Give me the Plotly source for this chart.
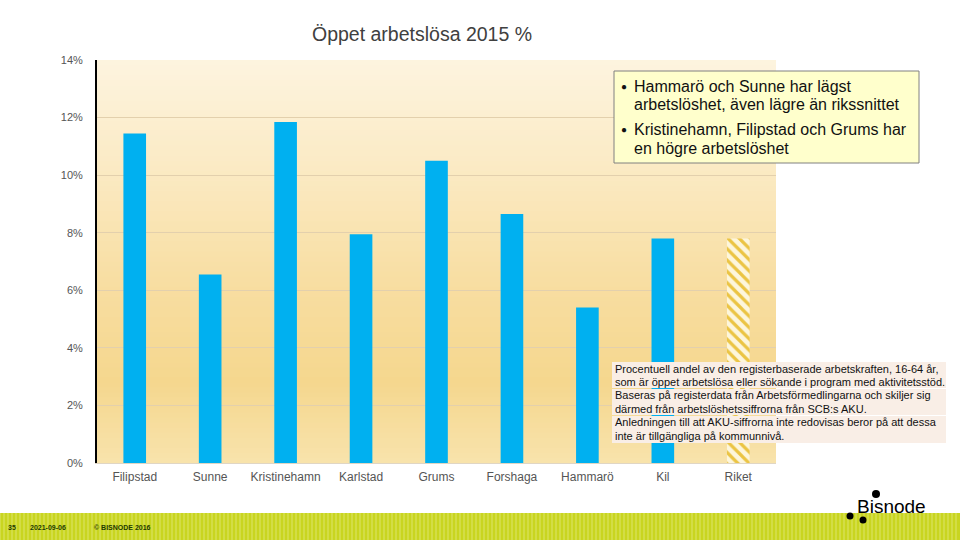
import plotly.graph_objects as go

# ---- data ----
categories = ["Filipstad", "Sunne", "Kristinehamn", "Karlstad", "Grums",
              "Forshaga", "Hammarö", "Kil", "Riket"]
values = [11.45, 6.55, 11.85, 7.95, 10.5, 8.65, 5.4, 7.8, 7.8]
ytick_vals = [0, 2, 4, 6, 8, 10, 12, 14]
ytick_text = ["0%", "2%", "4%", "6%", "8%", "10%", "12%", "14%"]

title_text = "Öppet arbetslösa 2015 %"
box_lines = [
    ("●", "Hammarö och Sunne har lägst"),
    ("", "arbetslöshet, även lägre än rikssnittet"),
    ("●", "Kristinehamn, Filipstad och Grums har"),
    ("", "en högre arbetslöshet"),
]
note_lines = [
    "Procentuell andel av den registerbaserade arbetskraften, 16-64 år,",
    "som är öppet arbetslösa eller sökande i program med aktivitetsstöd.",
    "Baseras på registerdata från Arbetsförmedlingarna och skiljer sig",
    "därmed från arbetslöshetssiffrorna från SCB:s AKU.",
    "Anledningen till att AKU-siffrorna inte redovisas beror på att dessa",
    "inte är tillgängliga på kommunnivå.",
]
footer_items = [("35", 6), ("2021-09-06", 28), ("© BISNODE 2016", 92)]

FONT = "Liberation Sans, Arial, sans-serif"
W, H = 960, 540
L, R, T, B = 97, 776, 60, 463


def px(x):
    return (x - L) / (R - L)


def py(y):
    return (B - y) / (B - T)


def lerp(c1, c2, t):
    a = [int(c1[i:i + 2], 16) for i in (1, 3, 5)]
    b = [int(c2[i:i + 2], 16) for i in (1, 3, 5)]
    return "#%02x%02x%02x" % tuple(round(a[k] + (b[k] - a[k]) * t) for k in range(3))


stops = [(0.0, "#f8e3ac"), (0.2, "#f5d78e"), (0.45, "#f8dea2"),
         (0.75, "#fbebc6"), (1.0, "#fdf4df")]


def grad(t):
    for (t0, c0), (t1, c1) in zip(stops[:-1], stops[1:]):
        if t0 <= t <= t1:
            return lerp(c0, c1, (t - t0) / (t1 - t0))
    return stops[-1][1]


shapes = []
N = 80
for i in range(N):
    y0 = i / N
    y1 = (i + 1) / N
    shapes.append(dict(type="rect", xref="paper", yref="paper", x0=0, x1=1,
                       y0=y0, y1=min(1, y1 + 0.002), fillcolor=grad((y0 + y1) / 2),
                       line=dict(width=0), layer="below"))

# text box (top right)
shapes.append(dict(type="rect", xref="paper", yref="paper",
                   x0=px(614), x1=px(919), y0=py(163), y1=py(71),
                   fillcolor="#ffffcc", line=dict(color="#808080", width=1)))
# note box rows
for (a, b) in [(362, 388), (389, 415), (416, 443)]:
    shapes.append(dict(type="rect", xref="paper", yref="paper",
                       x0=px(612), x1=px(946), y0=py(b), y1=py(a),
                       fillcolor="#f9eee6", line=dict(width=0)))
# footer band
shapes.append(dict(type="rect", xref="paper", yref="paper",
                   x0=px(0), x1=px(960), y0=py(540), y1=py(513),
                   fillcolor="#c9d520", line=dict(width=0)))
for xs in range(0, 960, 4):
    shapes.append(dict(type="line", xref="paper", yref="paper",
                       x0=px(xs), x1=px(xs), y0=py(540), y1=py(513),
                       line=dict(color="#dde56a", width=1)))
# logo dots
for (cx, cy, r) in [(876, 494, 4), (850, 516, 3.5), (863, 520, 3.5)]:
    shapes.append(dict(type="circle", xref="paper", yref="paper",
                       xsizemode="pixel", ysizemode="pixel",
                       xanchor=px(cx), yanchor=py(cy),
                       x0=-r, x1=r, y0=-r, y1=r,
                       fillcolor="black", line=dict(width=0)))

annotations = []
box_y = [86, 104, 129, 148]
for (bullet, txt), yy in zip(box_lines, box_y):
    if bullet:
        annotations.append(dict(text=bullet, x=px(619), y=py(yy), xref="paper", yref="paper",
                                xanchor="left", yanchor="middle", showarrow=False,
                                font=dict(family=FONT, size=10, color="#111111")))
    annotations.append(dict(text=txt, x=px(632), y=py(yy), xref="paper", yref="paper",
                            xanchor="left", yanchor="middle", showarrow=False,
                            font=dict(family=FONT, size=16, color="#111111")))
note_y = [369, 382, 395, 409, 422, 436]
for txt, yy in zip(note_lines, note_y):
    annotations.append(dict(text=txt, x=px(613), y=py(yy), xref="paper", yref="paper",
                            xanchor="left", yanchor="middle", showarrow=False,
                            font=dict(family=FONT, size=11, color="#111111")))
for txt, xx in footer_items:
    annotations.append(dict(text="<b>%s</b>" % txt, x=px(xx), y=py(527), xref="paper", yref="paper",
                            xanchor="left", yanchor="middle", showarrow=False,
                            font=dict(family=FONT, size=7, color="#1e3a00")))
annotations.append(dict(text="Bisnode", x=px(855), y=py(507), xref="paper", yref="paper",
                        xanchor="left", yanchor="middle", showarrow=False,
                        font=dict(family=FONT, size=19, color="black")))

n_reg = len(categories) - 1
fig = go.Figure()
fig.add_trace(go.Bar(
    x=categories[:n_reg], y=values[:n_reg],
    marker=dict(color="#00b0f0", line=dict(width=0)),
    width=0.3, hoverinfo="skip",
))
fig.add_trace(go.Bar(
    x=categories[n_reg:], y=values[n_reg:],
    marker=dict(color="#fdf6dc", line=dict(width=0),
                pattern=dict(shape="\\", fgcolor="#ebc443", bgcolor="#fdf6dc",
                             fgopacity=1, size=8, solidity=0.4, fillmode="replace")),
    width=0.3, hoverinfo="skip",
))

fig.update_layout(
    width=W, height=H,
    barmode="overlay",
    margin=dict(l=L, r=W - R, t=T, b=H - B),
    paper_bgcolor="white",
    plot_bgcolor="rgba(0,0,0,0)",
    showlegend=False,
    title=dict(text=title_text, x=422 / W, xanchor="center", y=1 - 34 / H, yanchor="middle",
               font=dict(family=FONT, size=19.5, color="#404040")),
    shapes=shapes,
    annotations=annotations,
    xaxis=dict(showgrid=False, showline=True, linecolor="#e0d6c4", linewidth=1,
               categoryorder="array", categoryarray=categories,
               ticks="", tickfont=dict(family=FONT, size=12, color="#555555"),
               ticklabelstandoff=3, fixedrange=True),
    yaxis=dict(range=[0, 14], tickvals=ytick_vals, ticktext=ytick_text,
               showgrid=True, gridcolor="#e3d0ad", gridwidth=1,
               showline=True, linecolor="black", linewidth=2,
               zeroline=False, ticks="", ticklabelstandoff=10,
               tickfont=dict(family=FONT, size=11, color="#555555")),
)

fig.write_html("out.html")
